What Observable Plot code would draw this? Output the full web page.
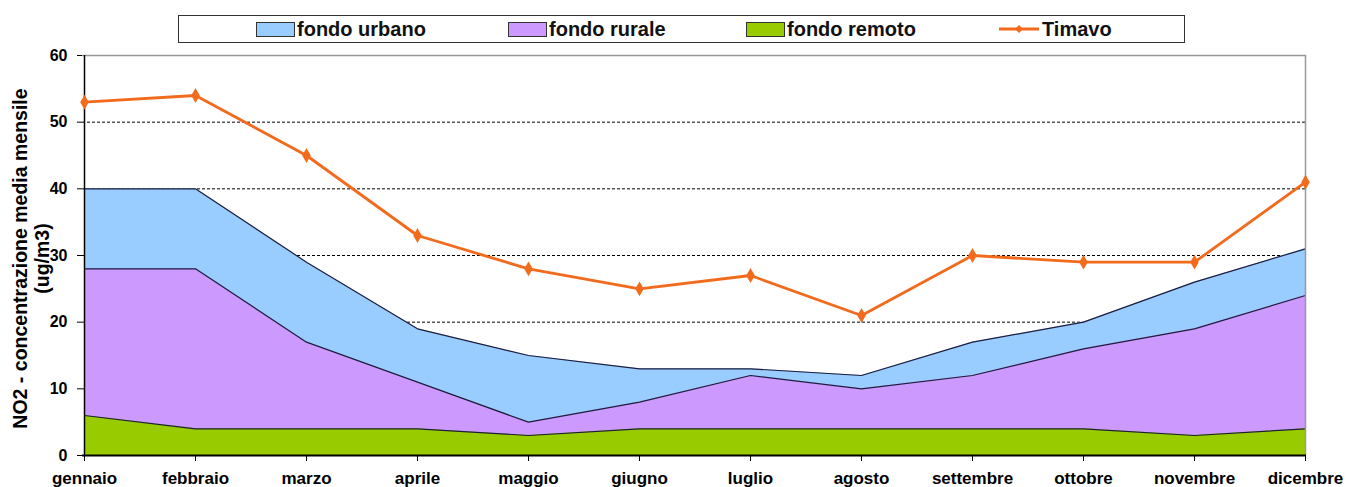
<!DOCTYPE html>
<html>
<head>
<meta charset="utf-8">
<script src="https://cdn.jsdelivr.net/npm/d3@7"></script>
<script src="https://cdn.jsdelivr.net/npm/@observablehq/plot@0.6"></script>
<style>
  html, body { margin: 0; padding: 0; background: #fff; }
  body { width: 1348px; height: 487px; overflow: hidden; font-family: "Liberation Sans", Arial, sans-serif; }
  #legend { position: relative; height: 47px; width: 1348px; }
  #legend .box { position: absolute; left: 178px; top: 15px; width: 1007px; height: 28px; border: 1.5px solid #333; box-sizing: border-box; }
  #legend .item { position: absolute; top: 18px; height: 22px; display: flex; align-items: center; font-weight: bold; font-size: 20px; color: #111; white-space: nowrap; }
  #legend .sw { width: 39px; height: 15px; border: 1.2px solid #333; box-sizing: border-box; margin-right: 2px; }
  #legend svg { margin-right: 2px; }
</style>
</head>
<body>
<div id="legend"></div>
<div id="chart"></div>
<script>
const months = ["gennaio","febbraio","marzo","aprile","maggio","giugno","luglio","agosto","settembre","ottobre","novembre","dicembre"];
const urbano = [40,40,29,19,15,13,13,12,17,20,26,31];
const rurale = [28,28,17,11,5,8,12,10,12,16,19,24];
const remoto = [6,4,4,4,3,4,4,4,4,4,3,4];
const timavo = [53,54,45,33,28,25,27,21,30,29,29,41];
const yTicks = [0,10,20,30,40,50,60];
const gridTicks = [10,20,30,40,50];

const seriesNames = ["fondo urbano","fondo rurale","fondo remoto","Timavo"];
const colors = {"fondo urbano":"#99ccff","fondo rurale":"#cc99ff","fondo remoto":"#99cc00","Timavo":"#f26b1d"};
const edge = "#1c1c3c";

const rows = months.map((m, i) => ({month: m, urbano: urbano[i], rurale: rurale[i], remoto: remoto[i], timavo: timavo[i]}));

// Legend
const legend = document.getElementById("legend");
legend.innerHTML = `<div class="box"></div>`;
const legendPos = [256, 508, 746, 998];
seriesNames.forEach((name, i) => {
  const it = document.createElement("div");
  it.className = "item";
  it.style.left = legendPos[i] + "px";
  if (name === "Timavo") {
    it.innerHTML = `<svg width="42" height="14"><line x1="1" y1="7" x2="41" y2="7" stroke="${colors[name]}" stroke-width="3"/><path d="M21,3 L25,7 L21,11 L17,7 Z" fill="${colors[name]}"/></svg>${name}`;
  } else {
    it.innerHTML = `<div class="sw" style="background:${colors[name]}"></div>${name}`;
  }
  legend.appendChild(it);
});

const chart = Plot.plot({
  width: 1348,
  height: 440,
  marginLeft: 82,
  marginRight: 42,
  marginTop: 8,
  marginBottom: 32,
  style: {fontFamily: "'Liberation Sans', Arial, sans-serif", color: "#000", background: "#fff", overflow: "visible"},
  x: {type: "point", domain: months, padding: 0},
  y: {domain: [0, 60]},
  marks: [
    Plot.ruleY(gridTicks, {stroke: "#000", strokeDasharray: "3,2", strokeWidth: 1}),
    Plot.areaY(rows, {x: "month", y: "urbano", fill: colors["fondo urbano"]}),
    Plot.lineY(rows, {x: "month", y: "urbano", stroke: edge, strokeWidth: 1.2}),
    Plot.areaY(rows, {x: "month", y: "rurale", fill: colors["fondo rurale"]}),
    Plot.lineY(rows, {x: "month", y: "rurale", stroke: edge, strokeWidth: 1.2}),
    Plot.areaY(rows, {x: "month", y: "remoto", fill: colors["fondo remoto"]}),
    Plot.lineY(rows, {x: "month", y: "remoto", stroke: edge, strokeWidth: 1.2}),
    Plot.ruleY([60], {stroke: "#999", strokeWidth: 1.5}),
    Plot.ruleX([months[months.length - 1]], {stroke: "#999", strokeWidth: 1.5}),
    Plot.ruleX([months[0]], {stroke: "#000", strokeWidth: 1.5}),
    Plot.ruleY([0], {stroke: "#000", strokeWidth: 2}),
    Plot.axisY({ticks: yTicks, tickSize: 5, tickPadding: 10, fontSize: 16, fontWeight: "bold", stroke: "#000", label: null}),
    Plot.axisX({tickSize: 6, tickPadding: 10, fontSize: 17, fontWeight: "bold", stroke: "#000", label: null}),
    Plot.lineY(rows, {x: "month", y: "timavo", stroke: colors["Timavo"], strokeWidth: 2.8}),
    Plot.dot(rows, {x: "month", y: "timavo", symbol: "diamond", r: 4.5, fill: colors["Timavo"], stroke: "none"}),
    Plot.text(["NO2 - concentrazione media mensile"], {frameAnchor: "left", textAnchor: "middle", dx: -62, dy: 3, rotate: -90, fontSize: 19.5, fontWeight: "bold", fill: "#000"}),
    Plot.text(["(ug/m3)"], {frameAnchor: "left", textAnchor: "middle", dx: -40, dy: 3, rotate: -90, fontSize: 19.5, fontWeight: "bold", fill: "#000"})
  ]
});
document.getElementById("chart").appendChild(chart);
</script>
</body>
</html>
